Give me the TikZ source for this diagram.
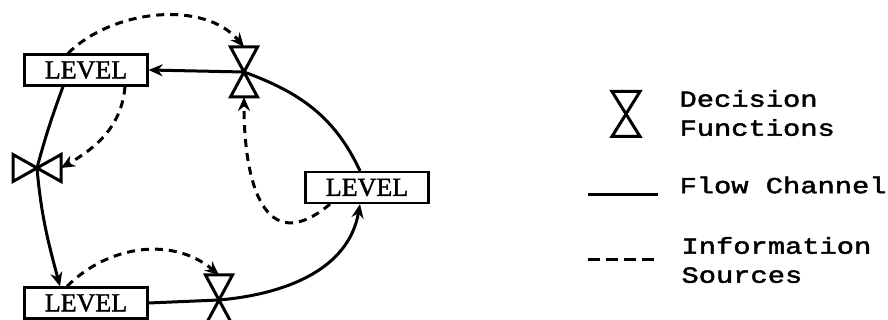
\documentclass[tikz,border=0pt]{standalone}
\usepackage{fontspec}
\usetikzlibrary{arrows.meta}
\newfontfamily\keyfont[FakeStretch=1.25,FakeBold=2]{Liberation Mono}
\newfontfamily\levelfont[FakeBold=1.5]{Liberation Serif}

\tikzset{
  level/.style={draw, line width=2.2pt, minimum width=123pt, minimum height=31pt,
    inner sep=0pt, font=\levelfont\fontsize{26}{26}\selectfont},
  valve/.style n args={2}{minimum width=#1, minimum height=#2, inner sep=0pt, outer sep=0pt},
  valveline/.style={line width=3pt},
  flowline/.style={line width=3pt},
  infoline/.style={line width=3pt, dash pattern=on 8pt off 6pt},
  tip/.style={-{Stealth[length=14pt,width=12pt]}},
  keytext/.style={anchor=west, align=left, font=\keyfont\fontsize{23}{29}\selectfont},
}

\begin{document}
\begin{tikzpicture}[x=1pt,y=1pt]
\useasboundingbox (0,0) rectangle (888,320);

% levels
\node[level] (lvlA) at (86,250) {LEVEL};
\node[level] (lvlB) at (367,132.5) {LEVEL};
\node[level] (lvlC) at (86,17) {LEVEL};

% decision functions
\node[valve={27pt}{50pt}] (decA) at (244,248) {};
\node[valve={48pt}{27pt}] (decB) at (37,152) {};
\node[valve={27pt}{50pt}] (decC) at (219,20) {};
\foreach \v in {decA,decC}
  \draw[valveline] (\v.north west) -- (\v.north east) -- (\v.south west) -- (\v.south east) -- cycle;
\draw[valveline] (decB.north west) -- (decB.south west) -- (decB.north east) -- (decB.south east) -- cycle;

% flow channels
\draw[flowline, tip] ([xshift=-7pt]lvlB.north) to[out=115, in=-20] (decA.center) -- (lvlA.east);
\draw[flowline] ([xshift=-23pt]lvlA.south) to[out=-110, in=75] (decB.center);
\draw[flowline, tip] (decB.center) to[out=-85, in=105] ([xshift=-26pt]lvlC.north);
\draw[flowline, tip] (lvlC.east) -- (decC.center) to[out=5, in=-100] ([xshift=-7pt]lvlB.south);

% information sources
\draw[infoline, tip] ([xshift=-18pt]lvlA.north) to[out=45, in=130, looseness=0.9] (decA.north);
\draw[infoline, tip] ([xshift=39pt]lvlA.south) to[out=-95, in=30] (decB.east);
\draw[infoline, tip] ([xshift=-37pt]lvlB.south) to[out=-140, in=-90, looseness=1.6] (decA.south);
\draw[infoline, tip] ([xshift=-19pt]lvlC.north) to[out=45, in=140] (decC.north);

% key
\node[valve={28pt}{45pt}] (decKey) at (626,206) {};
\draw[valveline] (decKey.north west) -- (decKey.north east) -- (decKey.south west) -- (decKey.south east) -- cycle;
\node[keytext] (keyDec) at (676,207) {Decision\\Functions};
\node[keytext] (keyFlow) at (676,135) {Flow Channel};
\node[keytext] (keyInfo) at (678,60) {Information\\Sources};
\coordinate (flowA) at (588,125);
\coordinate (flowB) at (658,125);
\coordinate (infoA) at (588,60);
\coordinate (infoB) at (658,60);
\draw[flowline] (flowA) -- (flowB);
\draw[infoline, dash pattern=on 12pt off 6pt] (infoA) -- (infoB);
\end{tikzpicture}
\end{document}
